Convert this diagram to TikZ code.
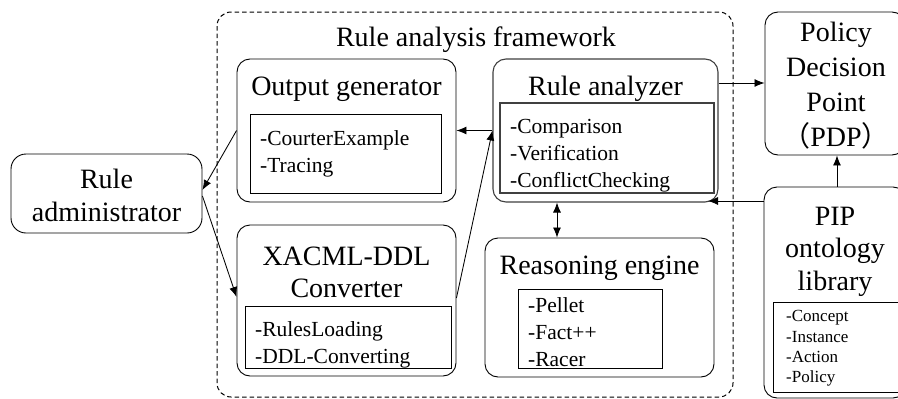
\documentclass[tikz,border=0pt]{standalone}
\usepackage{fontspec}
\setmainfont{Liberation Serif}
\newfontfamily\cjk{Noto Sans CJK SC}
\usetikzlibrary{arrows.meta}
\begin{document}
\begin{tikzpicture}[x=1pt,y=-1pt,
  box/.style={draw, rounded corners=13pt, line width=0.9pt, inner sep=0pt},
  listbox/.style={draw, line width=0.9pt, inner sep=0pt},
  frame/.style={draw, dashed, dash pattern=on 4.5pt off 3pt, rounded corners=14pt, line width=1pt, inner sep=0pt},
  ttl/.style={align=center, inner sep=0pt, font={\fontsize{28}{33}\selectfont}},
  lst/.style={align=left, anchor=west, inner sep=0pt, font={\fontsize{21.5}{27}\selectfont}},
  smalllst/.style={align=left, anchor=west, inner sep=0pt, font={\fontsize{17}{20.3}\selectfont}},
  arr/.style={-{Latex[length=10pt,width=8pt]}, line width=0.85pt},
  arrb/.style={{Latex[length=10pt,width=8pt]}-{Latex[length=10pt,width=8pt]}, line width=0.85pt}]
\useasboundingbox (0,0) rectangle (898,399);
\clip (0,0) rectangle (898,399);
\fill[white] (0,0) rectangle (898,399);

% framework frame
\node[frame, minimum width=516pt, minimum height=385pt] (frame) at (475,204.5) {};
\node[ttl] (frametitle) at (476,40) {Rule analysis framework};

% rule administrator
\node[box, rounded corners=15pt, minimum width=191pt, minimum height=79pt] (admin) at (106.5,193.5) {};
\node[ttl] (admintext) at (106.5,195) {Rule\\administrator};

% output generator
\node[box, minimum width=219pt, minimum height=143pt] (outgen) at (346.5,130.5) {};
\node[ttl] (outgentitle) at (346.5,89) {Output generator};
\node[listbox, minimum width=191pt, minimum height=79pt] (outlist) at (345.5,153.5) {};
\node[lst] (outlisttext) at (260,153.5) {-CourterExample\\-Tracing};

% XACML-DDL converter
\node[box, minimum width=219pt, minimum height=151pt] (conv) at (346.5,300.5) {};
\node[ttl, font={\fontsize{28}{32}\selectfont}] (convtitle) at (346.5,272.5) {XACML-DDL\\Converter};
\node[listbox, minimum width=206pt, minimum height=62pt] (convlist) at (348,337) {};
\node[lst] (convlisttext) at (255,344.5) {-RulesLoading\\-DDL-Converting};

% rule analyzer
\node[box, draw=black!75, line width=1.1pt, minimum width=225pt, minimum height=143pt] (analyzer) at (605.5,130.5) {};
\node[ttl] (analyzertitle) at (605.5,88.5) {Rule analyzer};
\node[listbox, draw=black!75, line width=1.1pt, minimum width=214pt, minimum height=90pt] (anlist) at (607,148) {};
\node[lst] (anlisttext) at (510,156) {-Comparison\\-Verification\\-ConflictChecking};

% reasoning engine
\node[box, minimum width=229pt, minimum height=139pt] (reason) at (599.5,307.5) {};
\node[ttl] (reasontitle) at (599.5,268) {Reasoning engine};
\node[listbox, minimum width=144pt, minimum height=79pt] (reaslist) at (590,328.5) {};
\node[lst] (reaslisttext) at (528,332) {-Pellet\\-Fact++\\-Racer};

% PDP
\node[box, minimum width=140pt, minimum height=143pt] (pdp) at (835,83.5) {};
\node[ttl, font={\fontsize{28}{35}\selectfont}] (pdptext) at (836,86) {Policy\\Decision\\Point\\{\cjk （}PDP{\cjk ）}};

% PIP
\node[box, minimum width=142pt, minimum height=211pt] (pip) at (835,292.5) {};
\node[ttl, font={\fontsize{28}{32.5}\selectfont}] (piptext) at (835,251.5) {PIP\\ontology\\library};
\node[listbox, minimum width=137pt, minimum height=90pt] (piplist) at (841.5,347) {};
\node[smalllst] (piplisttext) at (786,348.5) {-Concept\\-Instance\\-Action\\-Policy};

% connectors
\coordinate (anin) at (708,201);
\draw[arr] (analyzer.west) -- (outgen.east);
\draw[arr] (conv.east |- 0,298) -- (analyzer.west);
\draw[arr] (outgen.west) -- (admin.east |- 0,190);
\draw[arr] (admin.east |- 0,196) -- (conv.west |- 0,297);
\draw[arr] (analyzer.east |- 0,83) -- (pdp.west |- 0,83);
\draw[arr] (pip.west |- anin) -- (anin);
\draw[arrb] (analyzer.south -| 557,0) -- (reason.north -| 557,0);
\draw[arr] (pip.north -| 837,0) -- (pdp.south -| 837,0);
\end{tikzpicture}
\end{document}
